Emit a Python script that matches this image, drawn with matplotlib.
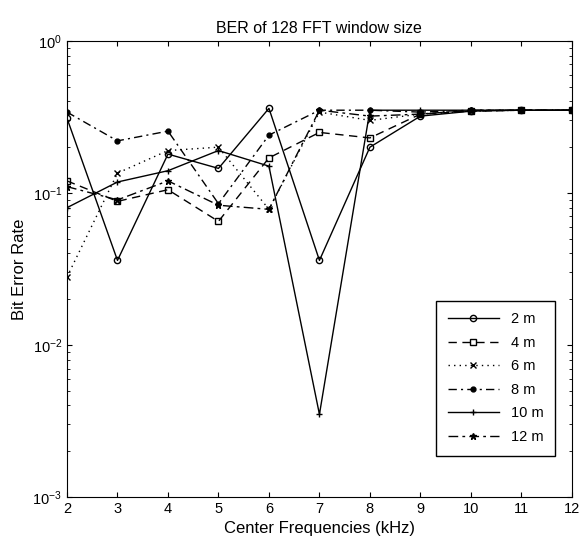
import numpy as np
import matplotlib.pyplot as plt

plt.rcParams['font.family'] = ['Liberation Sans', 'DejaVu Sans']

freqs = [2, 3, 4, 5, 6, 7, 8, 9, 10, 11, 12]

ber_2m = [0.31, 0.036, 0.18, 0.145, 0.36, 0.036, 0.20, 0.32, 0.345, 0.35, 0.35]
ber_4m = [0.12, 0.088, 0.105, 0.065, 0.17, 0.25, 0.23, 0.33, 0.345, 0.35, 0.35]
ber_6m = [0.028, 0.135, 0.19, 0.20, 0.078, 0.34, 0.30, 0.33, 0.345, 0.35, 0.35]
ber_8m = [0.34, 0.22, 0.255, 0.085, 0.24, 0.35, 0.35, 0.34, 0.35, 0.35, 0.35]
ber_10m = [0.08, 0.118, 0.14, 0.19, 0.15, 0.0035, 0.35, 0.35, 0.35, 0.35, 0.35]
ber_12m = [0.11, 0.09, 0.12, 0.083, 0.078, 0.35, 0.32, 0.33, 0.35, 0.35, 0.35]

labels = ['2 m', '4 m', '6 m', '8 m', '10 m', '12 m']
series = [ber_2m, ber_4m, ber_6m, ber_8m, ber_10m, ber_12m]
styles = [('-', 'o'), ((0, (6, 4)), 's'), ((0, (1, 3)), 'x'),
          ((0, (6, 3, 1.5, 3)), '.'), ('-', '+'), ((0, (7, 3, 2, 3)), '*')]

fig = plt.figure(figsize=(5.8, 5.45), dpi=100)
ax = fig.add_axes([0.1155, 0.088, 0.8705, 0.837])

for ys, lab, (ls, mk) in zip(series, labels, styles):
    ms = 7 if mk == '.' else 4.5
    ax.semilogy(freqs, ys, color='black', linestyle=ls, marker=mk,
                markersize=ms, markerfacecolor='none' if mk in 'os' else 'black',
                linewidth=1.0, label=lab)

ax.set_xlim(2, 12)
ax.set_ylim(1e-3, 1)
ax.set_xticks(freqs)
ax.tick_params(which='both', direction='in', top=True, right=True, labelsize=10.5)
ax.set_title('BER of 128 FFT window size', fontsize=11.5)
ax.set_xlabel('Center Frequencies (kHz)', fontsize=12)
ax.set_ylabel('Bit Error Rate', fontsize=12)

leg = ax.legend(loc='lower left', bbox_to_anchor=(0.717, 0.075), fancybox=False,
                edgecolor='black', framealpha=1, handlelength=3.5, fontsize=10.5,
                labelspacing=0.65, borderpad=0.8)
leg.get_frame().set_linewidth(1.0)

fig.savefig('out.png', dpi=100)
